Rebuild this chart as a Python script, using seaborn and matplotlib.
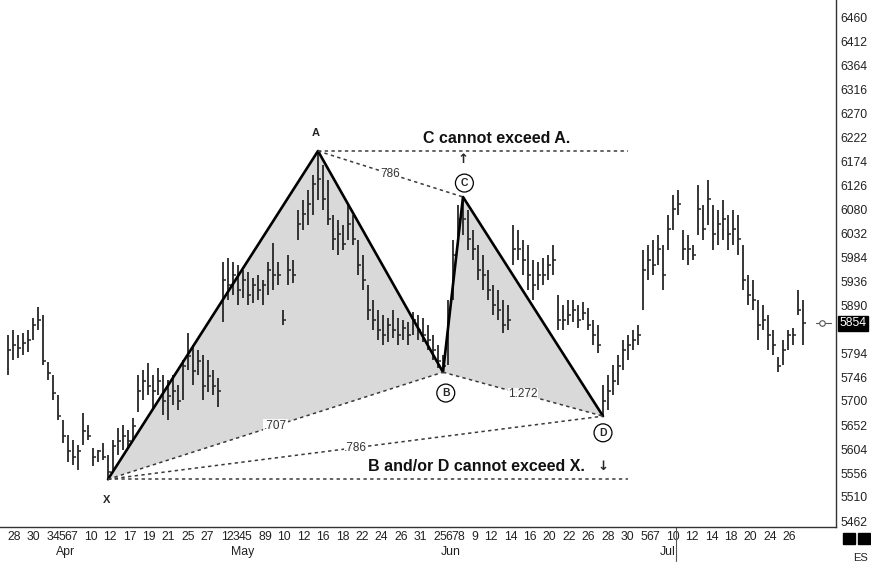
import matplotlib
matplotlib.use("Agg")
import matplotlib.pyplot as plt
import matplotlib.transforms as mtransforms
from matplotlib import font_manager
import numpy as np
import seaborn as sns

# bar data (one bar per index), prices
highs = [5831, 5841, 5831, 5835, 5841, 5864, 5886, 5870, 5777, 5751,
         5712, 5662, 5633, 5623, 5613, 5676, 5652, 5607, 5603, 5617,
         5593, 5623, 5647, 5652, 5643, 5666, 5751, 5761, 5775, 5751,
         5765, 5751, 5742, 5751, 5732, 5781, 5835, 5811, 5801, 5791,
         5781, 5761, 5746, 5975, 5983, 5975, 5969, 5959, 5955, 5944,
         5950, 5940, 5975, 6013, 5975, 5880, 5989, 5979, 6078, 6098,
         6118, 6148, 6193, 6167, 6138, 6068, 6058, 6049, 6088, 6068,
         6019, 5989, 5930, 5900, 5880, 5870, 5864, 5880, 5864, 5860,
         5856, 5876, 5870, 5864, 5851, 5831, 5811, 5791, 5900, 6019,
         6088, 6104, 6078, 6039, 6009, 5989, 5959, 5930, 5920, 5900,
         5890, 6049, 6039, 6019, 6009, 5979, 5975, 5983, 5989, 6009,
         5910, 5890, 5900, 5900, 5890, 5896, 5884, 5860, 5851, 5732,
         5751, 5771, 5791, 5821, 5831, 5841, 5851, 5999, 6009, 6019,
         6029, 6009, 6068, 6108, 6118, 6039, 6029, 6009, 6128, 6088,
         6138, 6088, 6078, 6098, 6068, 6078, 6068, 6009, 5950, 5940,
         5900, 5890, 5870, 5841, 5787, 5821, 5841, 5845, 5920, 5900]
lows = [5751, 5781, 5785, 5791, 5797, 5821, 5841, 5771, 5742, 5702,
        5662, 5617, 5579, 5573, 5563, 5613, 5623, 5571, 5579, 5583,
        5548, 5563, 5593, 5603, 5607, 5623, 5678, 5702, 5712, 5682,
        5712, 5672, 5662, 5692, 5682, 5702, 5761, 5732, 5751, 5702,
        5718, 5712, 5688, 5856, 5900, 5910, 5890, 5904, 5890, 5894,
        5900, 5890, 5910, 5920, 5930, 5851, 5930, 5934, 6019, 6039,
        6049, 6068, 6098, 6078, 6049, 5999, 5989, 5999, 6019, 6009,
        5950, 5920, 5860, 5841, 5821, 5811, 5817, 5825, 5811, 5821,
        5811, 5831, 5821, 5817, 5801, 5781, 5765, 5755, 5771, 5900,
        6009, 6029, 5999, 5979, 5940, 5920, 5900, 5870, 5860, 5835,
        5841, 5969, 5979, 5950, 5920, 5900, 5920, 5930, 5940, 5950,
        5841, 5841, 5851, 5856, 5845, 5860, 5841, 5811, 5795, 5670,
        5682, 5712, 5732, 5761, 5781, 5801, 5811, 5880, 5940, 5950,
        5969, 5920, 5999, 6039, 6068, 5979, 5969, 5979, 6029, 6019,
        6049, 5999, 6009, 6019, 5999, 6009, 5989, 5920, 5890, 5880,
        5821, 5841, 5801, 5791, 5757, 5771, 5801, 5811, 5870, 5811]
closes = [5800, 5810, 5805, 5815, 5820, 5850, 5860, 5780, 5755, 5715,
          5670, 5630, 5600, 5590, 5600, 5640, 5630, 5590, 5600, 5590,
          5560, 5610, 5620, 5630, 5620, 5650, 5720, 5740, 5730, 5720,
          5740, 5700, 5710, 5720, 5700, 5770, 5790, 5760, 5780, 5730,
          5750, 5730, 5720, 5940, 5930, 5950, 5920, 5940, 5910, 5930,
          5920, 5930, 5960, 5950, 5950, 5860, 5960, 5950, 6050, 6070,
          6090, 6130, 6140, 6100, 6060, 6020, 6030, 6010, 6050, 6020,
          5970, 5940, 5880, 5860, 5840, 5830, 5850, 5840, 5830, 5845,
          5830, 5860, 5840, 5830, 5820, 5800, 5780, 5770, 5880, 5990,
          6060, 6060, 6020, 6000, 5960, 5950, 5920, 5890, 5880, 5850,
          5860, 6000, 6000, 5980, 5950, 5930, 5950, 5950, 5970, 5980,
          5860, 5860, 5870, 5880, 5860, 5875, 5850, 5830, 5810, 5700,
          5720, 5740, 5770, 5800, 5810, 5820, 5830, 5960, 5980, 5970,
          6000, 5950, 6040, 6080, 6090, 6000, 6000, 5990, 6080, 6040,
          6100, 6030, 6050, 6060, 6030, 6040, 6020, 5940, 5910, 5900,
          5850, 5860, 5830, 5810, 5770, 5800, 5830, 5830, 5880, 5854]

# harmonic pattern points
pattern_names = ["X", "A", "B", "C", "D"]
pattern_idx = [20, 62, 87, 91, 119]
pattern_price = [5545, 6195, 5757, 6104, 5670]
guide_end = 124
ratio_pairs = [("A", "C"), ("X", "B"), ("X", "D"), ("B", "D")]
ratio_text = ["786", ".707", ".786", "1.272"]

# axis labels
price_ticks = [6460, 6412, 6364, 6316, 6270, 6222, 6174, 6126, 6080, 6032,
               5984, 5936, 5890, 5794, 5746, 5700, 5652, 5604, 5556, 5510, 5462]
last_price = 5854
day_labels = ["28", "30", "3", "4", "5", "6", "7", "10", "12", "17", "19", "21",
              "25", "27", "1", "2", "3", "4", "5", "8", "9", "10", "12", "16",
              "18", "22", "24", "26", "31", "2", "5", "6", "7", "8", "9", "12",
              "14", "16", "20", "22", "26", "28", "30", "5", "6", "7", "10",
              "12", "14", "18", "20", "24", "26"]
day_pos = [1.2, 5.1, 8.4, 9.6, 10.8, 12.0, 13.2, 16.5, 20.4, 24.3, 28.2, 32.1,
           36.0, 39.9, 43.2, 44.4, 45.6, 46.8, 48.0, 50.7, 51.9, 55.2, 59.1, 63.0,
           66.9, 70.8, 74.7, 78.6, 82.5, 85.8, 87.0, 88.2, 89.4, 90.6, 93.3, 96.6,
           100.5, 104.4, 108.3, 112.2, 116.1, 120.0, 123.9, 127.2, 128.4, 129.6, 132.9,
           136.8, 140.7, 144.6, 148.5, 152.4, 156.3]
month_labels = ["Apr", "May", "Jun", "Jul"]
month_pos = [11.5, 47.0, 88.5, 132.0]

sns.set_theme(style="white")
narrow = "Liberation Sans Narrow"
try:
    font_manager.findfont(narrow, fallback_to_default=False)
except Exception:
    narrow = "Liberation Sans"
plt.rcParams["font.family"] = ["Liberation Sans", "DejaVu Sans"]

fig = plt.figure(figsize=(8.71, 5.63), dpi=100)
ax = fig.add_axes([0, 36 / 563, 836 / 871, 527 / 563])

pt = dict(zip(pattern_names, zip(pattern_idx, pattern_price)))

# shaded triangles XAB and BCD
for tri in (["X", "A", "B"], ["B", "C", "D"]):
    ax.fill([pt[k][0] for k in tri], [pt[k][1] for k in tri],
            color="#d9d9d9", lw=0, zorder=0)

# price bars
x = np.arange(len(highs))
ax.vlines(x, lows, highs, color="#262626", lw=1.3, zorder=2)
ax.hlines(closes, x, x + 0.5, color="#262626", lw=1.1, zorder=2)

# pattern legs
sns.lineplot(x=pattern_idx, y=pattern_price, sort=False, color="black",
             lw=1.9, ax=ax, zorder=3)

# dashed ratio lines
dash = (0, (2.2, 2.2))
for (a, b), lab in zip(ratio_pairs, ratio_text):
    ax.plot([pt[a][0], pt[b][0]], [pt[a][1], pt[b][1]], ls=dash,
            color="#3a3a3a", lw=1.1, zorder=3)
    mx = (pt[a][0] + pt[b][0]) / 2
    my = (pt[a][1] + pt[b][1]) / 2
    ax.text(mx, my, lab, fontsize=8.5, color="#333333", ha="center",
            va="center", family=narrow, zorder=4,
            bbox=dict(fc="white", ec="none", pad=0.3, alpha=0.9))

ax.hlines(pt["A"][1], pt["A"][0], guide_end, ls=dash, color="#3a3a3a",
          lw=1.1, zorder=3)
ax.hlines(pt["X"][1], pt["X"][0], guide_end, ls=dash, color="#3a3a3a",
          lw=1.1, zorder=3)

# point labels
ax.annotate("A", pt["A"], xytext=(-2, 13), textcoords="offset points",
            ha="center", va="center", fontsize=8, fontweight="bold")
ax.annotate("X", pt["X"], xytext=(-1, -15), textcoords="offset points",
            ha="center", va="center", fontsize=8, fontweight="bold")
circ = dict(boxstyle="circle,pad=0.38", fc="white", ec="black", lw=0.9)
ax.annotate("C", pt["C"], xytext=(1, 10), textcoords="offset points",
            ha="center", va="center", fontsize=7.5, fontweight="bold", bbox=circ, zorder=5)
ax.annotate("B", pt["B"], xytext=(2, -15), textcoords="offset points",
            ha="center", va="center", fontsize=7.5, fontweight="bold", bbox=circ, zorder=5)
ax.annotate("D", pt["D"], xytext=(0, -12), textcoords="offset points",
            ha="center", va="center", fontsize=7.5, fontweight="bold", bbox=circ, zorder=5)
ax.annotate("\u2191", pt["C"], xytext=(0, 27), textcoords="offset points",
            ha="center", va="center", fontsize=9.5, fontweight="bold", family="DejaVu Sans")
ax.annotate("\u2193", pt["D"], xytext=(0, -36), textcoords="offset points",
            ha="center", va="center", fontsize=9.5, fontweight="bold", family="DejaVu Sans")

ax.annotate("C cannot exceed A.", pt["C"], xytext=(24, 42), textcoords="offset points",
            ha="center", va="center", fontsize=11.5, fontweight="bold", color="#111111")
ax.annotate("B and/or D cannot exceed X.", pt["D"], xytext=(-91, -36), textcoords="offset points",
            ha="center", va="center", fontsize=11.5, fontweight="bold", color="#111111")

# axes styling
ax.set_xlim(-1.6, 165.6)
ax.set_ylim(5450.5, 6494)
for s in ("left", "top"):
    ax.spines[s].set_visible(False)
for s in ("right", "bottom"):
    ax.spines[s].set_visible(True)
    ax.spines[s].set_color("#333333")
    ax.spines[s].set_linewidth(1.0)
ax.yaxis.tick_right()
ax.set_yticks(price_ticks)
ax.set_yticklabels([str(v) for v in price_ticks], fontsize=8.8, family=narrow,
                   color="#222222")
ax.tick_params(axis="y", length=0, pad=3)
ax.set_xticks(day_pos)
ax.set_xticklabels(day_labels, fontsize=8.8, family=narrow, color="#222222")
ax.tick_params(axis="x", length=0, pad=3)
ax.grid(False)

# last price marker and highlighted label
lx = len(highs) - 1
ax.plot([lx + 2.6, lx + 5.6], [last_price, last_price], color="#555555", lw=0.8,
        clip_on=False)
ax.plot([lx + 3.8], [last_price], marker="o", ms=4, mfc="white", mec="#555555",
        mew=0.8, clip_on=False)
trans = mtransforms.blended_transform_factory(ax.transAxes, ax.transData)
ax.text(1.004, last_price, "5854", transform=trans, ha="left", va="center",
        fontsize=8.8, family=narrow, color="white",
        bbox=dict(fc="black", ec="black", pad=1.2))

# month labels
for mp, ml in zip(month_pos, month_labels):
    fx = (mp + 1.6) / 167.2 * (836 / 871)
    fig.text(fx, 11 / 563, ml, ha="center", va="center", fontsize=8.8,
             family=narrow, color="#222222")
ax.plot([month_pos[-1] + 1.6, month_pos[-1] + 1.6], [0, -0.065],
        transform=mtransforms.blended_transform_factory(ax.transData, ax.transAxes),
        color="#555555", lw=0.8, clip_on=False)

# symbol boxes bottom right
for bx in (843, 858):
    fig.patches.append(plt.Rectangle((bx / 871, 19 / 563), 12 / 871, 11 / 563,
                                     transform=fig.transFigure, color="black"))
fig.text(860 / 871, 5 / 563, "ES", ha="center", va="center", fontsize=8,
         family=narrow, color="#222222")

fig.savefig("out.png", dpi=100, facecolor="white")
